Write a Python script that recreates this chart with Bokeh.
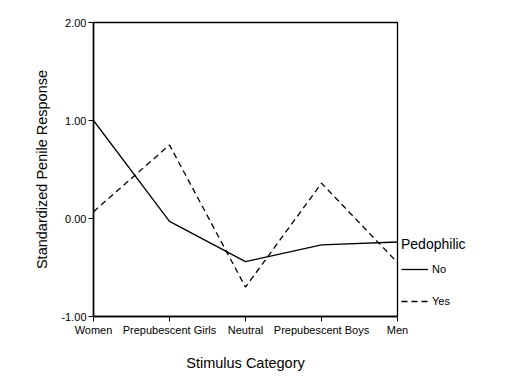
from bokeh.plotting import figure
from bokeh.models import Legend, LegendItem, FixedTicker, Range1d, PrintfTickFormatter
from bokeh.embed import file_html
from bokeh.resources import INLINE

categories = ["Women", "Prepubescent Girls", "Neutral", "Prepubescent Boys", "Men"]
no_values = [1.00, -0.03, -0.44, -0.27, -0.24]
yes_values = [0.07, 0.75, -0.70, 0.36, -0.45]
y_ticks = [-1.0, 0.0, 1.0, 2.0]

xs = list(range(len(categories)))
FONT = "Liberation Sans"

p = figure(frame_width=304, frame_height=294, output_backend="svg", toolbar_location=None,
           x_range=Range1d(0, len(categories) - 1), y_range=Range1d(-1.0, 2.0),
           min_border_left=93, min_border_right=100, min_border_top=22, min_border_bottom=55)

r_no = p.line(xs, no_values, line_color="black", line_width=1.3)
r_yes = p.line(xs, yes_values, line_color="black", line_width=1.3, line_dash="6 4")

p.xgrid.visible = False
p.ygrid.visible = False
p.outline_line_color = "black"
p.outline_line_width = 1.3
p.outline_line_alpha = 1.0

p.xaxis.ticker = FixedTicker(ticks=xs)
p.xaxis.major_label_overrides = {i: c for i, c in enumerate(categories)}
p.yaxis.ticker = FixedTicker(ticks=y_ticks)
p.yaxis.formatter = PrintfTickFormatter(format="%.2f")

for ax in (p.xaxis[0], p.yaxis[0]):
    ax.axis_line_color = "black"
    ax.axis_line_width = 1.5
    ax.major_tick_line_color = "black"
    ax.major_tick_in = 0
    ax.major_tick_out = 5
    ax.minor_tick_line_color = None
    ax.major_label_text_font = FONT
    ax.major_label_text_font_size = "11px"
    ax.major_label_text_color = "black"
    ax.axis_label_text_font = FONT
    ax.axis_label_text_font_size = "14.5px"
    ax.axis_label_text_font_style = "normal"
    ax.axis_label_text_color = "black"

p.xaxis.axis_label = "Stimulus Category"
p.yaxis.axis_label = "Standardized Penile Response"
p.xaxis.axis_label_standoff = 16
p.yaxis.axis_label_standoff = 8
p.xaxis.major_label_standoff = 2
p.yaxis.major_label_standoff = 2

legend = Legend(items=[LegendItem(label="No", renderers=[r_no]),
                       LegendItem(label="Yes", renderers=[r_yes])],
                location="bottom_left", title="Pedophilic",
                title_text_font=FONT, title_text_font_size="14px", title_text_color="black",
                title_text_font_style="normal", title_standoff=6,
                label_text_font=FONT, label_text_font_size="11px", label_text_color="black",
                glyph_width=27, glyph_height=22, label_standoff=4, spacing=10,
                border_line_color=None, background_fill_alpha=0, padding=10, margin=4)
p.add_layout(legend, "right")

open("out.html", "w").write(file_html(p, INLINE))
